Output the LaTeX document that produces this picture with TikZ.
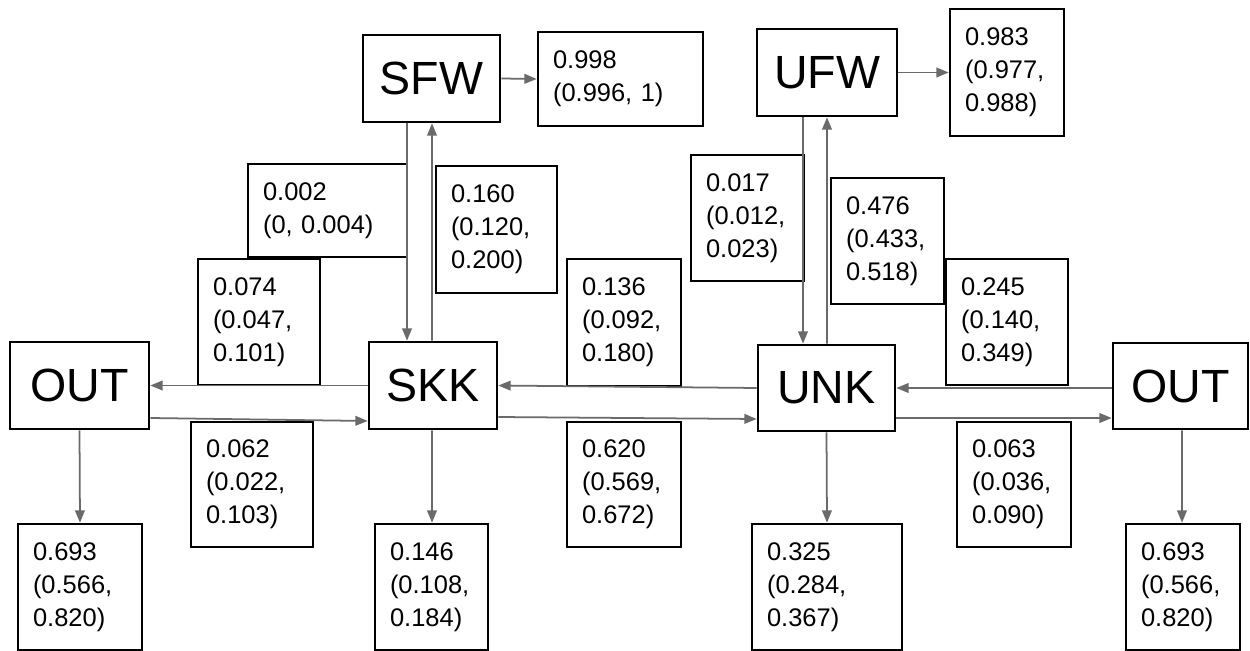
\documentclass[tikz,border=0pt]{standalone}
\usepackage{fontspec}
\setmainfont{Liberation Sans}
\usetikzlibrary{arrows.meta,calc}
\definecolor{cgray}{HTML}{6A6A6A}
\newcommand{\vf}{\fontsize{14.5}{18.7}\selectfont}
\newcommand{\mf}{\fontsize{26.5}{30}\selectfont}
\begin{document}
\begin{tikzpicture}[x=0.02cm,y=-0.02cm,
  vb/.style={draw, line width=1.5pt, inner xsep=0.3cm, inner ysep=0pt, align=left, font=\vf},
  mb/.style={draw, line width=1.5pt, inner sep=0pt, font=\mf},
  conn/.style={draw=cgray, line width=1pt, -{Triangle[length=7pt,width=5.5pt]}}]
\useasboundingbox (0,0) rectangle (1250,651);
% main nodes
\node[mb, minimum width=2.78cm, minimum height=1.74cm] (outL) at (79.5,385.5) {OUT};
\node[mb, minimum width=2.56cm, minimum height=1.74cm] (skk) at (433,385.5) {SKK};
\node[mb, minimum width=2.74cm, minimum height=1.74cm] (sfw) at (431.5,78.5) {SFW};
\node[mb, minimum width=2.80cm, minimum height=1.74cm] (ufw) at (827,72.5) {UFW};
\node[mb, minimum width=2.74cm, minimum height=1.72cm] (unk) at (826.5,388) {UNK};
\node[mb, minimum width=2.70cm, minimum height=1.72cm] (outR) at (1180.5,386) {OUT};
% value boxes
\node[vb, minimum width=3.30cm, text width=2.70cm, minimum height=1.88cm] (v998) at (620.5,79) {0.998\\(0.996, 1)};
\node[vb, minimum width=2.28cm, text width=1.68cm, minimum height=2.54cm] (v983) at (1007,72.5) {0.983\\(0.977,\\0.988)};
\node[vb, minimum width=3.18cm, text width=2.58cm, minimum height=1.86cm] (v002) at (327.5,210.5) {0.002\\(0, 0.004)};
\node[vb, minimum width=2.42cm, text width=1.82cm, minimum height=2.54cm] (v160) at (496.5,229.5) {0.160\\(0.120,\\0.200)};
\node[vb, minimum width=2.44cm, text width=1.84cm, minimum height=2.52cm] (v074) at (259,322) {0.074\\(0.047,\\0.101)};
\node[vb, minimum width=2.28cm, text width=1.68cm, minimum height=2.54cm] (v136) at (624,322.5) {0.136\\(0.092,\\0.180)};
\node[vb, minimum width=2.26cm, text width=1.66cm, minimum height=2.52cm] (v017) at (747.5,218) {0.017\\(0.012,\\0.023)};
\node[vb, minimum width=2.26cm, text width=1.66cm, minimum height=2.52cm] (v476) at (887.5,241) {0.476\\(0.433,\\0.518)};
\node[vb, minimum width=2.44cm, text width=1.84cm, minimum height=2.52cm] (v245) at (1007,322) {0.245\\(0.140,\\0.349)};
\node[vb, minimum width=2.44cm, text width=1.84cm, minimum height=2.50cm] (v062) at (252,484.5) {0.062\\(0.022,\\0.103)};
\node[vb, minimum width=2.28cm, text width=1.68cm, minimum height=2.50cm] (v620) at (624,484.5) {0.620\\(0.569,\\0.672)};
\node[vb, minimum width=2.28cm, text width=1.68cm, minimum height=2.50cm] (v063) at (1014,484.5) {0.063\\(0.036,\\0.090)};
\node[vb, minimum width=2.48cm, text width=1.88cm, minimum height=2.52cm] (v693L) at (80,587) {0.693\\(0.566,\\0.820)};
\node[vb, minimum width=2.26cm, text width=1.66cm, minimum height=2.52cm] (v146) at (431.5,587) {0.146\\(0.108,\\0.184)};
\node[vb, minimum width=3.00cm, text width=2.40cm, minimum height=2.52cm] (v325) at (827,587) {0.325\\(0.284,\\0.367)};
\node[vb, minimum width=2.28cm, text width=1.68cm, minimum height=2.52cm] (v693R) at (1183,587) {0.693\\(0.566,\\0.820)};
% connectors
\draw[conn] ($(sfw.south)+(-24.5,0)$) -- ($(skk.north)+(-26,0)$);
\draw[conn] ($(skk.north)+(-1,0)$) -- ($(sfw.south)+(0.5,0)$);
\draw[conn] (sfw.east) -- (v998.west);
\draw[conn] ($(ufw.south)+(-24,0)$) -- ($(unk.north)+(-23.5,0)$);
\draw[conn] ($(unk.north)+(0.5,0)$) -- (ufw.south);
\draw[conn] (ufw.east) -- (v983.west);
\draw[conn] (skk.west) -- (outL.east);
\draw[conn] ($(outL.east)+(0,32.5)$) -- ($(skk.west)+(0,35.5)$);
\draw[conn] (unk.west) -- (skk.east);
\draw[conn] ($(skk.east)+(0,31.5)$) -- ($(unk.west)+(0,31)$);
\draw[conn] ($(outR.west)+(0,2)$) -- (unk.east);
\draw[conn] ($(unk.east)+(0,30)$) -- ($(outR.west)+(0,32)$);
\draw[conn] (outL.south) -- (v693L.north);
\draw[conn] ($(skk.south)+(-1,0)$) -- ($(v146.north)+(0.5,0)$);
\draw[conn] (unk.south) -- (v325.north);
\draw[conn] ($(outR.south)+(1.5,0)$) -- ($(v693R.north)+(-1,0)$);
\end{tikzpicture}
\end{document}
